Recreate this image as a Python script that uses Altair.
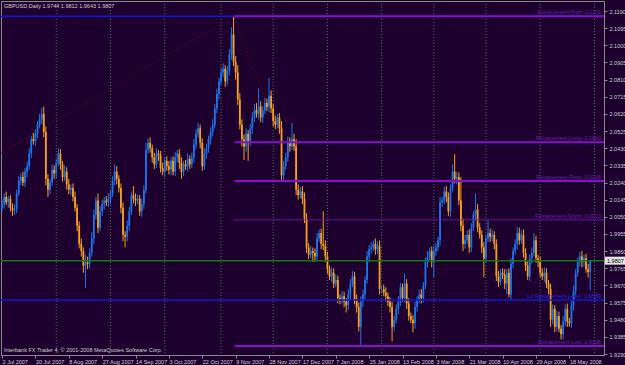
import altair as alt
import pandas as pd

# ---------------- data ----------------
closes = [
    2.0120, 2.0160, 2.0130, 2.0150, 2.0100, 2.0085, 2.0090, 2.0180, 2.0250, 2.0270,
    2.0240, 2.0300, 2.0330, 2.0400, 2.0480, 2.0470, 2.0510, 2.0560, 2.0590, 2.0620,
    2.0520, 2.0260, 2.0200, 2.0240, 2.0310, 2.0290, 2.0350, 2.0400, 2.0340, 2.0270,
    2.0300, 2.0230, 2.0200, 2.0210, 2.0160, 2.0100, 2.0000, 1.9900, 1.9860, 1.9780,
    1.9800, 1.9790, 1.9850, 1.9930, 2.0060, 2.0140, 1.9990, 2.0080, 2.0120, 2.0140,
    2.0130, 2.0150, 2.0180, 2.0250, 2.0300, 2.0260, 2.0210, 2.0100, 1.9950, 1.9940,
    2.0000, 2.0080, 2.0170, 2.0150, 2.0140, 2.0150, 2.0080, 2.0120, 2.0200, 2.0420,
    2.0460, 2.0430, 2.0380, 2.0340, 2.0400, 2.0390, 2.0320, 2.0300, 2.0360, 2.0330,
    2.0310, 2.0360, 2.0300, 2.0380, 2.0400, 2.0350, 2.0300, 2.0340, 2.0330, 2.0370,
    2.0340, 2.0380, 2.0450, 2.0510, 2.0540, 2.0460, 2.0330, 2.0400, 2.0430, 2.0480,
    2.0520, 2.0560, 2.0650, 2.0730, 2.0800, 2.0850, 2.0870, 2.0800, 2.0860, 2.0950,
    2.1060, 2.0910, 2.0850, 2.0700, 2.0560, 2.0480, 2.0440, 2.0510, 2.0470, 2.0540,
    2.0600, 2.0640, 2.0620, 2.0660, 2.0600, 2.0640, 2.0680, 2.0660, 2.0720, 2.0650,
    2.0580, 2.0560, 2.0600, 2.0540, 2.0280, 2.0330, 2.0380, 2.0460, 2.0440, 2.0480,
    2.0440, 2.0200, 2.0170, 2.0190, 2.0150, 2.0040, 1.9880, 1.9840, 1.9860, 1.9850,
    1.9830, 1.9930, 1.9960, 1.9900, 1.9890, 1.9830, 1.9760, 1.9720, 1.9740, 1.9680,
    1.9700, 1.9600, 1.9590, 1.9610, 1.9580, 1.9560, 1.9620, 1.9680, 1.9720, 1.9590,
    1.9550, 1.9440, 1.9580, 1.9620, 1.9700, 1.9830, 1.9870, 1.9880, 1.9900, 1.9870,
    1.9890, 1.9650, 1.9650, 1.9630, 1.9610, 1.9580, 1.9550, 1.9440, 1.9480, 1.9540,
    1.9580, 1.9660, 1.9600, 1.9680, 1.9570, 1.9500, 1.9480, 1.9460, 1.9550, 1.9590,
    1.9620, 1.9600, 1.9670, 1.9800, 1.9830, 1.9860, 1.9800, 1.9860, 1.9880, 1.9920,
    2.0130, 2.0140, 2.0190, 2.0160, 2.0080, 2.0210, 2.0300, 2.0260, 2.0270, 2.0140,
    2.0000, 1.9900, 1.9920, 1.9950, 1.9880, 1.9990, 2.0060, 2.0090, 1.9990, 1.9950,
    1.9880, 1.9820, 1.9930, 1.9960, 1.9940, 1.9950, 1.9900, 1.9720, 1.9690, 1.9740,
    1.9730, 1.9680, 1.9740, 1.9620, 1.9790, 1.9860, 1.9900, 1.9960, 1.9920, 1.9950,
    1.9850, 1.9780, 1.9720, 1.9820, 1.9850, 1.9920, 1.9820, 1.9800, 1.9740, 1.9720,
    1.9740, 1.9680, 1.9650, 1.9480, 1.9540, 1.9440, 1.9500, 1.9430, 1.9400, 1.9470,
    1.9540, 1.9470, 1.9460, 1.9560, 1.9640, 1.9740, 1.9800, 1.9830, 1.9800, 1.9820,
    1.9760, 1.9744, 1.9807,
]
first_open = 2.0100

# upper / lower shadows in pips
up_wick = [
    25, 20, 30, 15, 20, 25, 30, 20, 25, 20,
    30, 20, 25, 30, 20, 35, 25, 20, 30, 33,
    40, 30, 25, 20, 30, 25, 20, 30, 25, 20,
    35, 25, 30, 20, 25, 30, 20, 25, 30, 20,
    40, 30, 25, 35, 30, 20, 40, 30, 25, 20,
    25, 30, 20, 25, 40, 30, 20, 25, 30, 20,
    30, 25, 20, 50, 30, 25, 20, 30, 25, 40,
    25, 30, 20, 25, 30, 20, 25, 30, 20, 25,
    30, 20, 25, 30, 20, 25, 30, 20, 25, 30,
    20, 25, 30, 25, 30, 20, 25, 30, 25, 20,
    25, 30, 25, 30, 20, 25, 30, 20, 25, 30,
    40, 101, 30, 40, 35, 30, 25, 30, 20, 25,
    30, 35, 40, 100, 30, 25, 30, 25, 100, 30,
    25, 30, 20, 25, 40, 30, 25, 35, 30, 90,
    30, 40, 30, 25, 30, 35, 30, 25, 30, 20,
    25, 30, 20, 25, 180, 30, 25, 20, 30, 25,
    30, 25, 20, 30, 25, 20, 30, 25, 30, 25,
    30, 25, 30, 25, 20, 30, 25, 30, 20, 30,
    25, 30, 20, 25, 30, 20, 25, 30, 20, 25,
    30, 25, 20, 58, 25, 30, 20, 25, 30, 20,
    25, 30, 20, 25, 30, 20, 25, 30, 25, 20,
    30, 20, 25, 30, 25, 20, 40, 97, 30, 25,
    130, 40, 30, 25, 30, 25, 20, 90, 30, 25,
    25, 30, 20, 70, 25, 30, 20, 25, 30, 20,
    25, 30, 20, 25, 30, 20, 25, 35, 30, 25,
    30, 25, 20, 25, 30, 40, 25, 20, 30, 25,
    30, 25, 20, 30, 25, 20, 30, 25, 20, 30,
    25, 30, 20, 25, 30, 20, 25, 25, 30, 20,
    25, 30, 5,
]
low_wick = [
    20, 25, 15, 30, 20, 30, 25, 20, 15, 25,
    20, 25, 30, 20, 25, 20, 30, 25, 20, 25,
    30, 35, 40, 25, 20, 30, 25, 20, 30, 25,
    20, 30, 25, 30, 25, 20, 30, 25, 30, 40,
    125, 30, 25, 20, 30, 25, 30, 20, 25, 30,
    20, 25, 30, 20, 25, 30, 25, 30, 35, 60,
    25, 30, 20, 25, 30, 20, 25, 30, 25, 20,
    20, 25, 30, 25, 20, 30, 25, 20, 30, 25,
    25, 30, 20, 25, 30, 35, 40, 25, 20, 30,
    25, 20, 30, 25, 20, 30, 25, 20, 30, 25,
    30, 25, 20, 25, 30, 20, 25, 30, 20, 25,
    30, 25, 40, 30, 25, 40, 75, 30, 110, 25,
    30, 25, 20, 30, 25, 30, 20, 25, 30, 25,
    30, 25, 20, 30, 25, 30, 20, 25, 30, 20,
    25, 30, 25, 20, 30, 25, 30, 25, 20, 50,
    30, 25, 20, 30, 25, 30, 25, 20, 30, 25,
    20, 30, 25, 20, 30, 40, 25, 30, 20, 25,
    30, 25, 105, 30, 25, 20, 30, 25, 20, 30,
    25, 30, 25, 20, 30, 25, 30, 80, 25, 20,
    30, 25, 20, 25, 30, 25, 20, 50, 30, 25,
    20, 30, 25, 20, 30, 25, 30, 85, 25, 20,
    30, 25, 20, 30, 25, 30, 20, 25, 30, 25,
    30, 40, 25, 20, 30, 25, 20, 30, 25, 20,
    30, 105, 25, 20, 30, 25, 30, 25, 30, 20,
    25, 30, 60, 15, 30, 25, 20, 30, 25, 20,
    25, 30, 20, 25, 30, 20, 25, 30, 25, 20,
    30, 25, 30, 40, 25, 30, 25, 20, 30, 30,
    25, 30, 20, 25, 30, 25, 20, 25, 30, 25,
    20, 30, 101,
]

date_labels = ["2 Jul 2007", "20 Jul 2007", "8 Aug 2007", "27 Aug 2007", "14 Sep 2007",
               "3 Oct 2007", "22 Oct 2007", "9 Nov 2007", "28 Nov 2007", "17 Dec 2007",
               "7 Jan 2008", "25 Jan 2008", "13 Feb 2008", "3 Mar 2008", "21 Mar 2008",
               "10 Apr 2008", "29 Apr 2008", "18 May 2008"]
bars_per_label = 16
price_ticks = [1.9290, 1.9385, 1.9480, 1.9575, 1.9670, 1.9765, 1.9860, 1.9955, 2.0050,
               2.0145, 2.0240, 2.0335, 2.0430, 2.0525, 2.0620, 2.0715, 2.0810, 2.0905,
               2.1000, 2.1095, 2.1190]
grid_bars = [26, 52, 78, 105, 130, 156, 182, 207, 232, 258, 284]

retr_names = ["Retracement High", "Retracement Long", "Retracement Pivot",
              "Retracement Short", "Retracement Low"]
retr_values = [2.1161, 2.0463, 2.0248, 2.0033, 1.9335]
retr_start_bar = 111.5
blue_levels = [2.1161, 1.9589]
blue_label = "Lo Retracement Level: 1.9589"
bid_price = 1.9807
title_text = "GBPUSD,Daily  1.9744 1.9812 1.9643 1.9807"
copyright_text = "Interbank FX Trader 4, \u00a9 2001-2008 MetaQuotes Software Corp."
trend_bars = [-0.5, 111, 172]
trend_prices = [2.0402, 2.1161, 1.9335]

# ---------------- styling ----------------
BG = "#1e002e"
FRAME = "#8a8a8a"
TXT = "#d0d0d0"
BULL = "#1f74ea"
BEAR = "#f3a21f"
PURPLE = "#8412cc"
BLUE = "#1414d8"
GREEN = "#0c7c0c"
GRID = "#6a8070"
FONT = "Liberation Sans"
FS = 5.5
XMIN, XMAX = -0.5, 288.6
YMIN, YMAX = 1.92845, 2.12454

n = len(closes)
opens = [first_open] + closes[:-1]
df = pd.DataFrame({"i": list(range(n)), "open": opens, "close": closes})
df["high"] = [max(o, c) + u / 10000 for o, c, u in zip(opens, closes, up_wick)]
df["low"] = [min(o, c) - w / 10000 for o, c, w in zip(opens, closes, low_wick)]
df["dir"] = ["up" if c >= o else "down" for o, c in zip(opens, closes)]

xs = alt.Scale(domain=[XMIN, XMAX], nice=False, zero=False)
ys = alt.Scale(domain=[YMIN, YMAX], nice=False, zero=False)
label_arr = "[" + ",".join("'" + s + "'" for s in date_labels) + "]"
x_axis = alt.Axis(values=[k * bars_per_label for k in range(len(date_labels))],
                  labelExpr=label_arr + "[round(datum.value/" + str(bars_per_label) + ")]",
                  title=None, grid=False, labelAlign="left", labelBaseline="top",
                  labelPadding=1, tickSize=3, labelFontSize=FS, labelFont=FONT,
                  labelColor=TXT, tickColor=FRAME, domainColor=FRAME,
                  labelOverlap=False, labelFlush=False, labelBound=False)
y_axis = alt.Axis(values=price_ticks, format=".4f", orient="right", title=None, grid=False,
                  labelPadding=2, tickSize=3, labelFontSize=FS, labelFont=FONT,
                  labelColor=TXT, tickColor=FRAME, domainColor=FRAME,
                  labelOverlap=False, labelFlush=False, labelBound=False)

X = lambda f: alt.X(f, scale=xs, axis=x_axis)
Y = lambda f: alt.Y(f, scale=ys, axis=y_axis)
col = alt.Color("dir:N", scale=alt.Scale(domain=["up", "down"], range=[BULL, BEAR]), legend=None)

base = alt.Chart(df)
wicks = base.mark_rule(strokeWidth=1).encode(x=X("i:Q"), y=Y("low:Q"), y2="high:Q", color=col)
bodies = base.mark_rule(strokeWidth=1.8).encode(x=X("i:Q"), y=Y("open:Q"), y2="close:Q", color=col)

grid = alt.Chart(pd.DataFrame({"g": grid_bars})).mark_rule(
    color=GRID, strokeDash=[1, 2], strokeWidth=1, opacity=0.8).encode(x=X("g:Q"))

trend_df = pd.DataFrame({"x": trend_bars, "p": trend_prices})
trend = alt.Chart(trend_df).mark_line(color="#7a0a0a", strokeDash=[1, 3], strokeWidth=1).encode(
    x=X("x:Q"), y=Y("p:Q"))

blue_df = pd.DataFrame({"v": blue_levels})
blue = alt.Chart(blue_df).mark_rule(color=BLUE, strokeWidth=1.5).encode(y=Y("v:Q"))

lv = pd.DataFrame({"name": retr_names, "v": retr_values,
                   "x0": [retr_start_bar] * len(retr_values), "x1": [XMAX] * len(retr_values)})
lv["label"] = [f"{a}: {b:.4f}" for a, b in zip(retr_names, retr_values)]
solid = alt.Chart(lv[lv["name"] != "Retracement Short"]).mark_rule(color=PURPLE, strokeWidth=2).encode(
    x=X("x0:Q"), x2="x1:Q", y=Y("v:Q"))
dotted = alt.Chart(lv[lv["name"] == "Retracement Short"]).mark_rule(
    color=PURPLE, strokeWidth=1.5, strokeDash=[1, 1]).encode(x=X("x0:Q"), x2="x1:Q", y=Y("v:Q"))
lv_text = alt.Chart(lv).mark_text(align="right", baseline="bottom", dx=-3, dy=-1, fontSize=FS,
                                  font=FONT, color="#7418b8").encode(
    x=X("x1:Q"), y=Y("v:Q"), text="label:N")
blue_text = alt.Chart(pd.DataFrame({"v": [blue_levels[1]], "x1": [XMAX], "t": [blue_label]})).mark_text(
    align="right", baseline="bottom", dx=-3, dy=-1, fontSize=FS, font=FONT, color="#2a2ae0").encode(
    x=X("x1:Q"), y=Y("v:Q"), text="t:N")

bid_df = pd.DataFrame({"v": [bid_price], "t": [f"{bid_price:.4f}"]})
bid = alt.Chart(bid_df).mark_rule(color=GREEN, strokeWidth=1.5).encode(y=Y("v:Q"))
bid_box = alt.Chart(bid_df).mark_point(
    shape="M-1,-0.4L1,-0.4L1,0.4L-1,0.4Z", filled=True, size=400, color="#e4e4e4", opacity=1).encode(
    x=alt.value(614), y=Y("v:Q"))
bid_txt = alt.Chart(bid_df).mark_text(align="left", baseline="middle", fontSize=FS, font=FONT,
                                      color="#000000").encode(x=alt.value(606), y=Y("v:Q"), text="t:N")

title = alt.Chart(pd.DataFrame({"t": [title_text]})).mark_text(
    align="left", baseline="top", fontSize=FS, font=FONT, color=TXT).encode(
    x=alt.value(3), y=alt.value(3), text="t:N")
copy = alt.Chart(pd.DataFrame({"t": [copyright_text]})).mark_text(
    align="left", baseline="bottom", fontSize=FS, font=FONT, color=TXT).encode(
    x=alt.value(3), y=alt.value(352), text="t:N")

chart = alt.layer(grid, trend, wicks, bodies, blue, solid, dotted, bid, lv_text, blue_text,
                  bid_box, bid_txt, title, copy).properties(
    width=603, height=354, background=BG,
    padding={"left": 1, "top": 1, "right": 21, "bottom": 10},
    autosize=alt.AutoSizeParams(type="none"),
).configure_view(stroke=FRAME, strokeWidth=1, fill=BG)

chart.save("out.html", embed_options={"renderer": "svg", "actions": False})
